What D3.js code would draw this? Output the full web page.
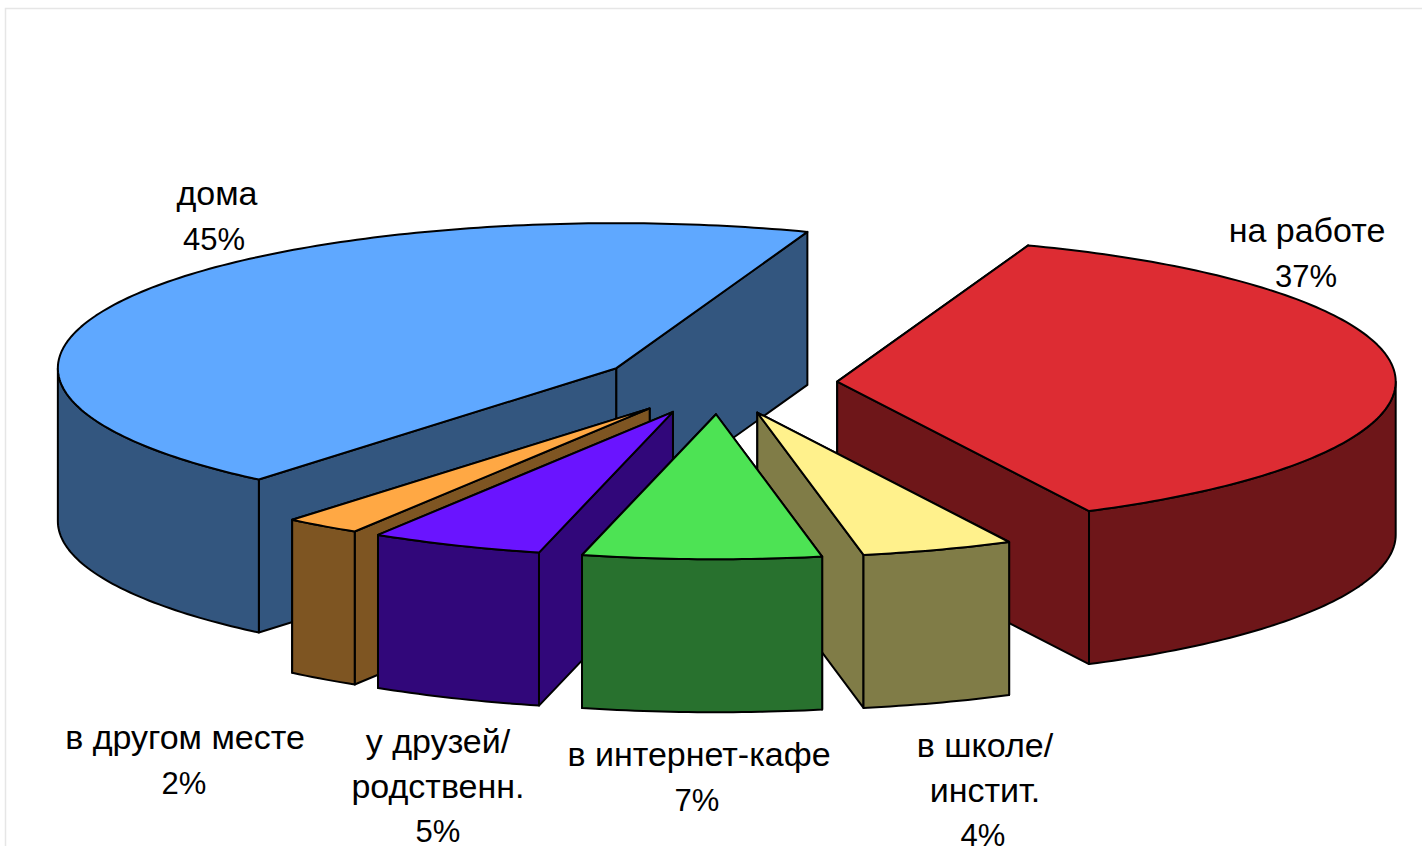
<!DOCTYPE html>
<html>
<head>
<meta charset="utf-8">
<script src="https://cdn.jsdelivr.net/npm/d3@7"></script>
<style>
  html, body { margin: 0; padding: 0; background: #fff; overflow: hidden; }
  text { font-family: "Liberation Sans", Arial, sans-serif; fill: #000; text-anchor: middle; }
</style>
</head>
<body>
<script>
// clockwise from the back of the pie, first slice starts at 20 degrees
var places = ['на работе', 'в школе/ инстит.', 'в интернет-кафе', 'у друзей/ родственн.', 'в другом месте', 'дома'];
var shares = [37.0, 4.4, 6.9, 5.0, 2.2, 44.5];
var topColors = ['#dd2c33', '#fff18c', '#4de354', '#6a14ff', '#ffa844', '#5fa8ff'];
var sideColors = ['#6e1619', '#807c47', '#28712e', '#31077a', '#7e5522', '#33567f'];

// label lines and where each block of text sits
var labelLines = [['на работе'], ['в школе/', 'инстит.'], ['в интернет-кафе'], ['у друзей/', 'родственн.'], ['в другом месте'], ['дома']];
var labelAnchors = [[1307, 242], [985, 757], [699, 766], [438, 753], [185, 749], [217, 205]];
var percentX = [1306, 983, 697, 438, 184, 214];

var width = 1422;
var height = 846;
var cx = 719, cy = 383.5;   // centre of the un-exploded pie
var rx = 558.5, ry = 145;   // ellipse of the top face
var depth = 153;
var explode = 0.212;
var lineStep = 44.5;

var svg = d3.select('body').append('svg')
    .attr('width', width)
    .attr('height', height);

// thin frame left over from the slide
svg.append('path')
    .attr('d', 'M5.5,' + height + 'V8.5H' + width)
    .attr('fill', 'none')
    .attr('stroke', '#e6e6e6')
    .attr('stroke-width', 1.5);

var pie = d3.pie().sort(null)
    .startAngle(20 * Math.PI / 180)
    .endAngle(380 * Math.PI / 180);

var slices = pie(shares).map(function (d, i) {
    var mid = (d.startAngle + d.endAngle) / 2;
    return {
        a0: d.startAngle,
        a1: d.endAngle,
        ox: cx + explode * rx * Math.sin(mid),
        oy: cy - explode * ry * Math.cos(mid),
        top: topColors[i],
        side: sideColors[i],
        index: i,
        value: d.value
    };
});

function rim(s, a, dy) {
    return [s.ox + rx * Math.sin(a), s.oy - ry * Math.cos(a) + (dy || 0)];
}

function arcPoints(s, a0, a1, dy) {
    var n = Math.max(2, Math.ceil((a1 - a0) * 60));
    return d3.range(n + 1).map(function (k) { return rim(s, a0 + (a1 - a0) * k / n, dy); });
}

var line = d3.line();

function outline(g, pts, fill) {
    g.append('path')
        .attr('d', line(pts) + 'Z')
        .attr('fill', fill)
        .attr('stroke', '#000')
        .attr('stroke-width', 2)
        .attr('stroke-linejoin', 'round');
}

function radialWall(g, s, a) {
    var p = rim(s, a);
    outline(g, [[s.ox, s.oy], p, [p[0], p[1] + depth], [s.ox, s.oy + depth]], s.side);
}

function drawSlice(s) {
    var g = svg.append('g').attr('class', 'slice');

    // walls turned away from the viewer stay behind, the rest go on top of them
    var startVisible = Math.sin(s.a0) < 0;
    var endVisible = Math.sin(s.a1) > 0;
    if (!startVisible) radialWall(g, s, s.a0);
    if (!endVisible) radialWall(g, s, s.a1);
    if (startVisible) radialWall(g, s, s.a0);
    if (endVisible) radialWall(g, s, s.a1);

    // outer wall, only the part on the front half of the ellipse
    var from = Math.max(s.a0, Math.PI / 2);
    var to = Math.min(s.a1, 3 * Math.PI / 2);
    if (to > from) {
        var upper = arcPoints(s, from, to, 0);
        var lower = arcPoints(s, from, to, depth).reverse();
        outline(g, upper.concat(lower), s.side);
    }

    var face = [[s.ox, s.oy]].concat(arcPoints(s, s.a0, s.a1, 0));
    outline(g, face, s.top);
}

// back to front
var paintOrder = [5, 0, 4, 1, 3, 2];
paintOrder.forEach(function (i) { drawSlice(slices[i]); });

places.forEach(function (name, i) {
    var t = svg.append('text').attr('aria-label', name);
    var n = labelLines[i].length;
    labelLines[i].forEach(function (str, k) {
        t.append('tspan')
            .attr('x', labelAnchors[i][0])
            .attr('y', labelAnchors[i][1] + k * lineStep)
            .attr('font-size', 34)
            .text(str);
    });
    t.append('tspan')
        .attr('x', percentX[i])
        .attr('y', labelAnchors[i][1] + n * lineStep)
        .attr('font-size', 31)
        .text(Math.round(shares[i]) + '%');
});
</script>
</body>
</html>
